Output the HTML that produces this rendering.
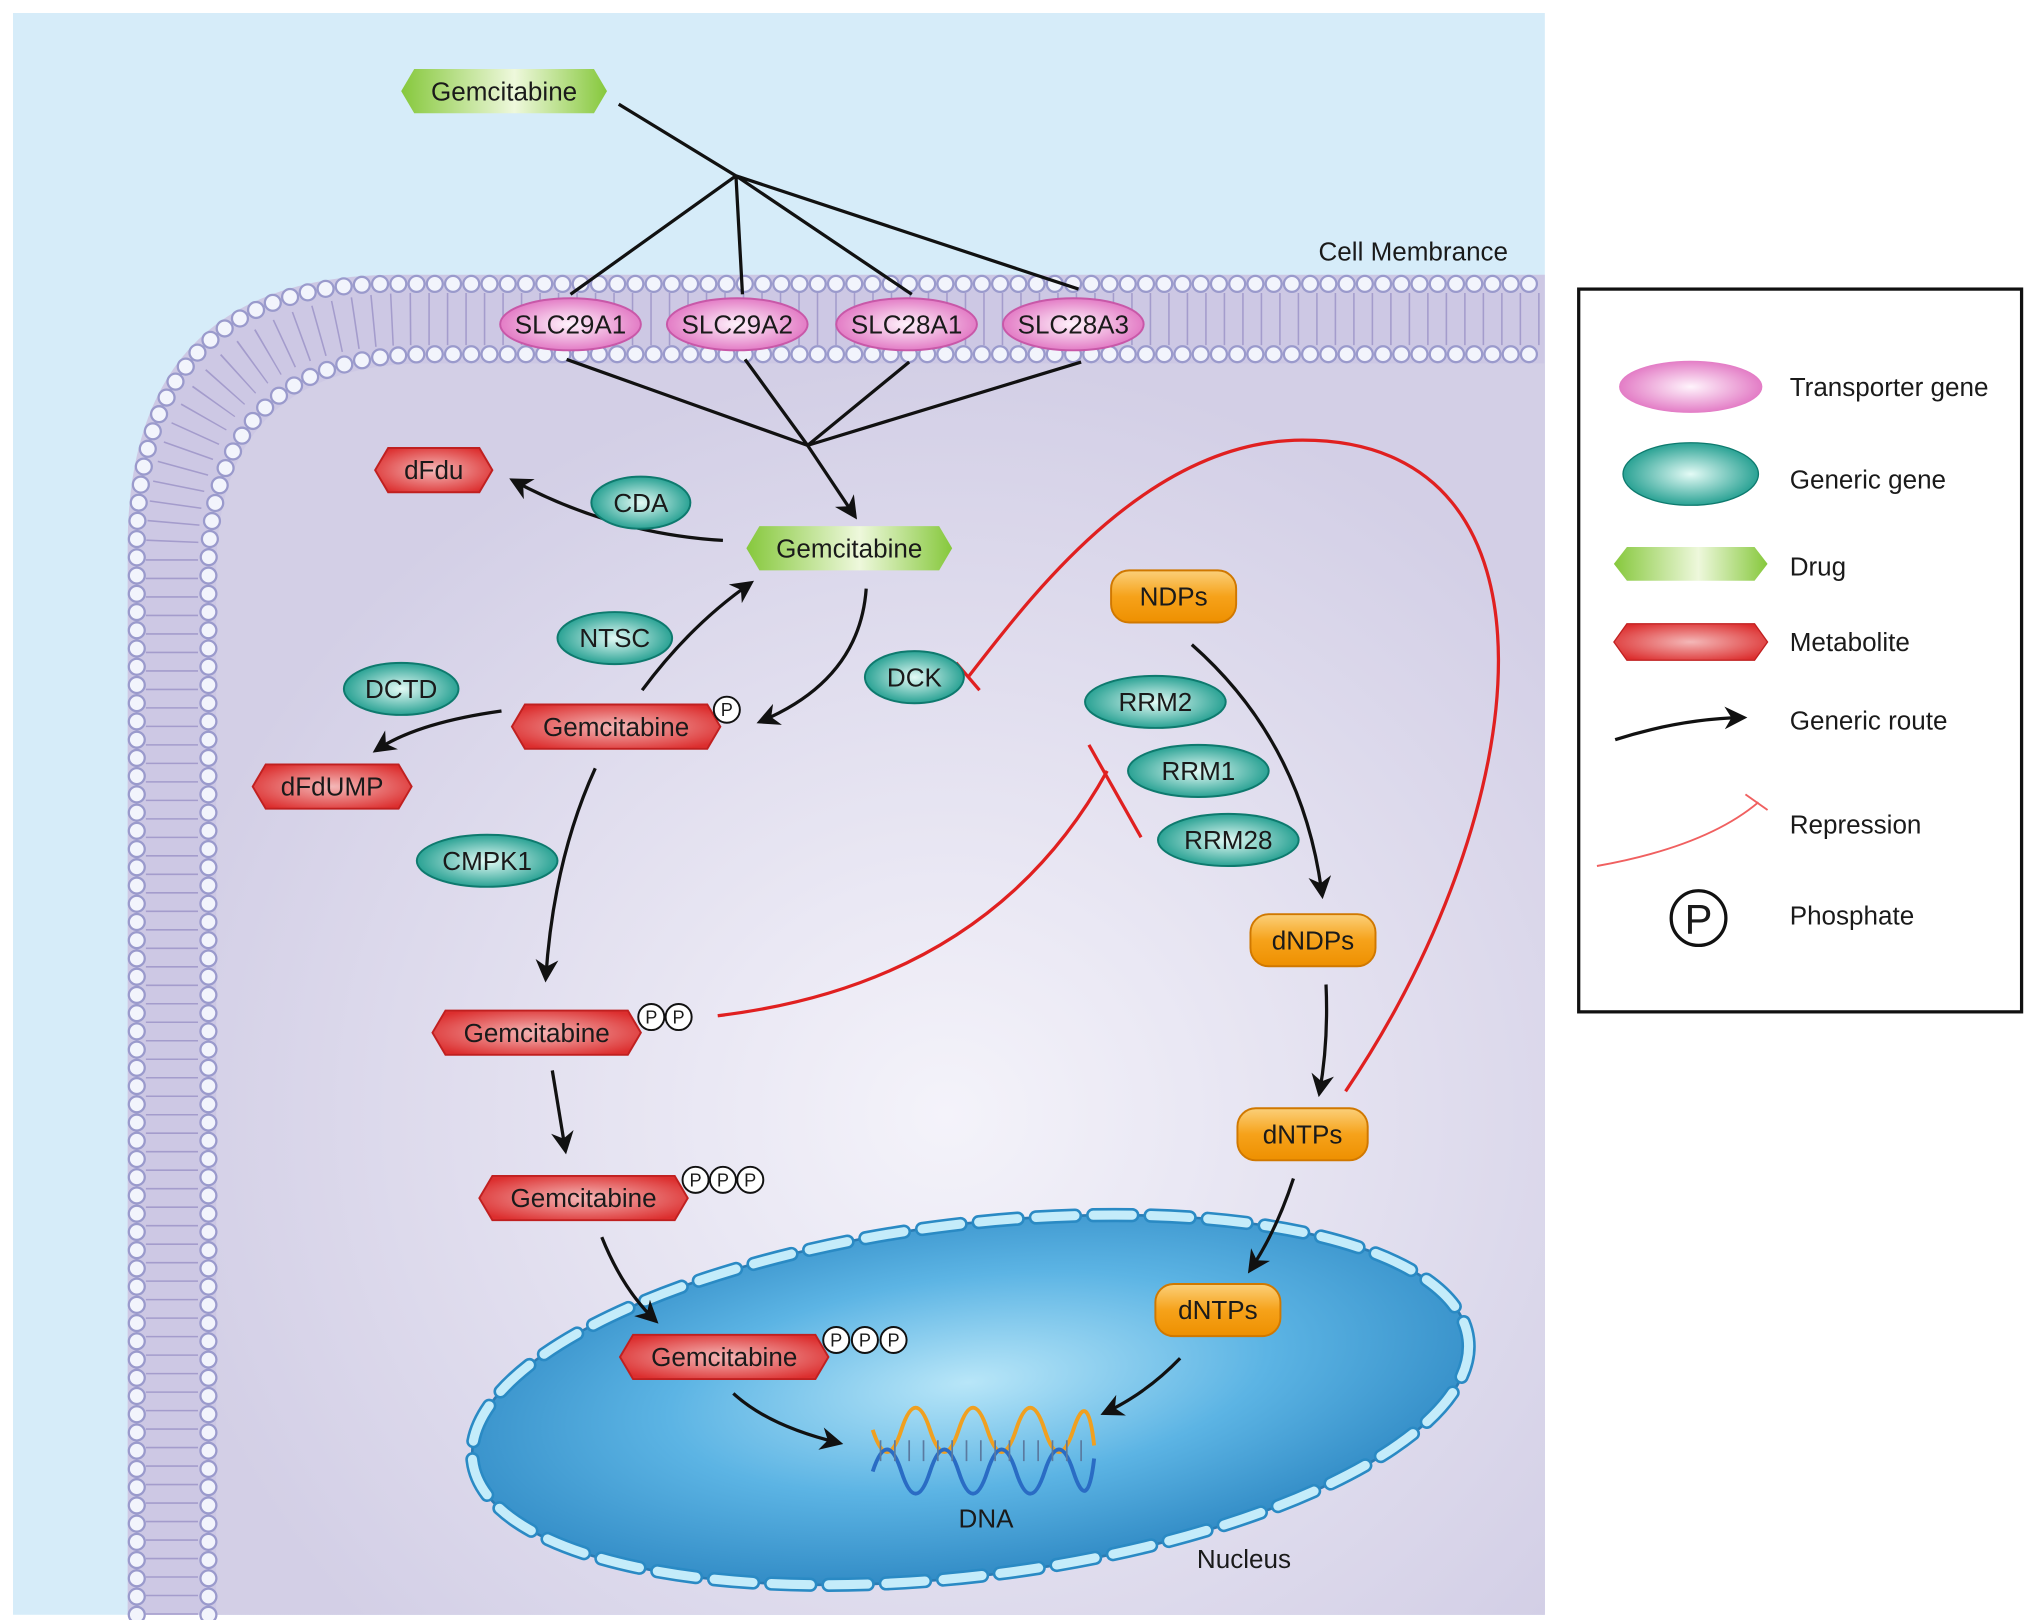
<!DOCTYPE html>
<html><head><meta charset="utf-8"><style>html,body{margin:0;padding:0;background:#fff}svg{display:block}text{font-family:"Liberation Sans",sans-serif;fill:#1a1a1a}</style></head>
<body>
<svg width="2032" height="1620" viewBox="0 0 1560 1244" preserveAspectRatio="none" xmlns="http://www.w3.org/2000/svg">
<defs>
<radialGradient id="cell" cx="0.55" cy="0.6" r="0.6"><stop offset="0" stop-color="#f4f3fa"/><stop offset="1" stop-color="#d3cfe6"/></radialGradient>
<radialGradient id="nuc" cx="0.5" cy="0.45" r="0.6"><stop offset="0" stop-color="#b8e6f8"/><stop offset="0.5" stop-color="#5cb4e4"/><stop offset="1" stop-color="#2a84c0"/></radialGradient>
<linearGradient id="grn" x1="0" x2="1"><stop offset="0" stop-color="#86c83c"/><stop offset="0.55" stop-color="#eef8dc"/><stop offset="1" stop-color="#86c83c"/></linearGradient>
<radialGradient id="red" cx="0.5" cy="0.5" r="0.6"><stop offset="0" stop-color="#f4b8b8"/><stop offset="1" stop-color="#dc2e2e"/></radialGradient>
<radialGradient id="pink" cx="0.5" cy="0.5" r="0.55"><stop offset="0" stop-color="#fff4fc"/><stop offset="1" stop-color="#e070c0"/></radialGradient>
<radialGradient id="teal" cx="0.5" cy="0.5" r="0.55"><stop offset="0" stop-color="#e4fbf6"/><stop offset="1" stop-color="#17998a"/></radialGradient>
<linearGradient id="org" x1="0" y1="0" x2="0" y2="1"><stop offset="0" stop-color="#fbd07a"/><stop offset="0.5" stop-color="#f6a21a"/><stop offset="1" stop-color="#ee9000"/></linearGradient>
<marker id="ah" viewBox="0 0 10 10" refX="8" refY="5" markerWidth="7" markerHeight="7" orient="auto"><path d="M0,0 L10,5 L0,10 L3,5z" fill="#111"/></marker>
</defs>
<rect x="0" y="0" width="1560" height="1244" fill="#fff"/>
<rect x="10" y="10" width="1176" height="1230" fill="#d6ecf9"/>
<path d="M98,1240 V420 Q98,211 305,211 H1186 V1240Z" fill="#cdc8e4"/>
<path d="M132,1240 V430 Q132,245 318,245 H1186" fill="none" stroke="#a49ccc" stroke-width="40" stroke-dasharray="1.2 13"/>
<path d="M166,1240 V440 Q166,279 330,279 H1186 V1240Z" fill="url(#cell)"/>
<path d="M105,1240 V420 Q105,218 300,218 H1186" fill="none" stroke="#9a9acc" stroke-width="14" stroke-linecap="round" stroke-dasharray="0 14"/>
<path d="M105,1240 V420 Q105,218 300,218 H1186" fill="none" stroke="#f2f4fc" stroke-width="10.5" stroke-linecap="round" stroke-dasharray="0 14"/>
<path d="M160,1240 V440 Q160,272 330,272 H1186" fill="none" stroke="#9a9acc" stroke-width="14" stroke-linecap="round" stroke-dasharray="0 14"/>
<path d="M160,1240 V440 Q160,272 330,272 H1186" fill="none" stroke="#f2f4fc" stroke-width="10.5" stroke-linecap="round" stroke-dasharray="0 14"/>
<text x="1085" y="200" font-size="20" text-anchor="middle">Cell Membrance</text>

<!-- nucleus -->
<g transform="rotate(-7 745 1075)">
<ellipse cx="745" cy="1075" rx="385" ry="135" fill="url(#nuc)" stroke="#2a7cb4" stroke-width="2"/>
<ellipse cx="745" cy="1075" rx="385" ry="135" fill="none" stroke="#2a8ac4" stroke-width="11" stroke-dasharray="30 14" stroke-linecap="round"/>
<ellipse cx="745" cy="1075" rx="385" ry="135" fill="none" stroke="#c4ecfa" stroke-width="7" stroke-dasharray="30 14" stroke-linecap="round"/>
</g>
<text x="955" y="1204" font-size="20" text-anchor="middle">Nucleus</text>
<!-- DNA -->
<g fill="none" stroke-width="3">
<path d="M670,1098 Q681,1132 692,1098 T714,1098 T736,1098 T758,1098 T780,1098 T802,1098 T824,1098 T840,1110" stroke="#f0a020"/>
<path d="M670,1130 Q681,1096 692,1130 T714,1130 T736,1130 T758,1130 T780,1130 T802,1130 T824,1130 T840,1120" stroke="#2a6cc4"/>
<path d="M676,1106V1122M687,1106V1122M698,1106V1122M709,1106V1122M720,1106V1122M731,1106V1122M742,1106V1122M753,1106V1122M764,1106V1122M775,1106V1122M786,1106V1122M797,1106V1122M808,1106V1122M819,1106V1122M830,1106V1122" stroke="#5a7aa0" stroke-width="1.3"/>
</g>
<text x="757" y="1173" font-size="20" text-anchor="middle">DNA</text>

<!-- black lines -->
<g stroke="#111" stroke-width="2.5" fill="none">
<path d="M475,80 L565,135 L438,226 M565,135 L570,226 M565,135 L700,226 M565,135 L828,222"/>
<path d="M435,276 L620,342 M572,276 L620,342 M698,278 L620,342 M830,278 L620,342"/>
<path d="M620,342 L656,396" marker-end="url(#ah)"/>
<path d="M555,415 Q470,410 394,369" marker-end="url(#ah)"/>
<path d="M665,452 Q660,522 584,554" marker-end="url(#ah)"/>
<path d="M493,530 Q530,480 576,448" marker-end="url(#ah)"/>
<path d="M385,546 Q320,555 289,576" marker-end="url(#ah)"/>
<path d="M457,590 Q425,660 419,751" marker-end="url(#ah)"/>
<path d="M424,822 L434,883" marker-end="url(#ah)"/>
<path d="M462,950 Q478,990 503,1014" marker-end="url(#ah)"/>
<path d="M563,1070 Q590,1095 644,1108" marker-end="url(#ah)"/>
<path d="M915,495 Q1000,570 1015,687" marker-end="url(#ah)"/>
<path d="M1018,756 Q1020,800 1013,839" marker-end="url(#ah)"/>
<path d="M993,905 Q980,945 960,975" marker-end="url(#ah)"/>
<path d="M906,1043 Q880,1070 848,1085" marker-end="url(#ah)"/>
</g>
<!-- red repression -->
<g stroke="#e02020" stroke-width="2.5" fill="none">
<path d="M551,780 Q760,755 850,592"/>
<path d="M836,572 L876,643"/>
<path d="M1033,838 C1180,620 1210,338 1000,338 C880,338 790,460 744,519"/>
<path d="M734,509 L752,530"/>
</g>

<!-- transporters -->
<g stroke="#c858a8" stroke-width="1.5">
<ellipse cx="438" cy="249" rx="54" ry="20" fill="url(#pink)"/>
<ellipse cx="566" cy="249" rx="54" ry="20" fill="url(#pink)"/>
<ellipse cx="696" cy="249" rx="54" ry="20" fill="url(#pink)"/>
<ellipse cx="824" cy="249" rx="54" ry="20" fill="url(#pink)"/>
</g>
<g font-size="20" text-anchor="middle">
<text x="438" y="256">SLC29A1</text><text x="566" y="256">SLC29A2</text><text x="696" y="256">SLC28A1</text><text x="824" y="256">SLC28A3</text>
</g>
<!-- green drugs -->
<polygon points="308,70 318,53 456,53 466,70 456,87 318,87" fill="url(#grn)"/>
<polygon points="573,421 583,404 721,404 731,421 721,438 583,438" fill="url(#grn)"/>
<text x="387" y="77" font-size="20" text-anchor="middle">Gemcitabine</text>
<text x="652" y="428" font-size="20" text-anchor="middle">Gemcitabine</text>
<!-- red metabolites -->
<g fill="url(#red)" stroke="#c02020" stroke-width="1.5">
<polygon points="288,361 298,344 368,344 378,361 368,378 298,378"/>
<polygon points="393,558 403,541 543,541 553,558 543,575 403,575"/>
<polygon points="194,604 204,587 306,587 316,604 306,621 204,621"/>
<polygon points="332,793 342,776 482,776 492,793 482,810 342,810"/>
<polygon points="368,920 378,903 518,903 528,920 518,937 378,937"/>
<polygon points="476,1042 486,1025 626,1025 636,1042 626,1059 486,1059"/>
</g>
<g font-size="20" text-anchor="middle">
<text x="333" y="368">dFdu</text><text x="473" y="565">Gemcitabine</text><text x="255" y="611">dFdUMP</text>
<text x="412" y="800">Gemcitabine</text><text x="448" y="927">Gemcitabine</text><text x="556" y="1049">Gemcitabine</text>
</g>
<!-- phosphates -->
<g fill="#fff" stroke="#111" stroke-width="1.5">
<circle cx="558" cy="545" r="10"/>
<circle cx="500" cy="781" r="10"/><circle cx="521" cy="781" r="10"/>
<circle cx="534" cy="906" r="10"/><circle cx="555" cy="906" r="10"/><circle cx="576" cy="906" r="10"/>
<circle cx="642" cy="1029" r="10"/><circle cx="664" cy="1029" r="10"/><circle cx="686" cy="1029" r="10"/>
</g>
<g font-size="14" text-anchor="middle">
<text x="558" y="550">P</text><text x="500" y="786">P</text><text x="521" y="786">P</text>
<text x="534" y="911">P</text><text x="555" y="911">P</text><text x="576" y="911">P</text>
<text x="642" y="1034">P</text><text x="664" y="1034">P</text><text x="686" y="1034">P</text>
</g>
<!-- teal genes -->
<g fill="url(#teal)" stroke="#0e7a6e" stroke-width="1.5">
<ellipse cx="492" cy="386" rx="38" ry="20"/>
<ellipse cx="472" cy="490" rx="44" ry="20"/>
<ellipse cx="308" cy="529" rx="44" ry="20"/>
<ellipse cx="702" cy="520" rx="38" ry="20"/>
<ellipse cx="887" cy="539" rx="54" ry="20"/>
<ellipse cx="920" cy="592" rx="54" ry="20"/>
<ellipse cx="943" cy="645" rx="54" ry="20"/>
<ellipse cx="374" cy="661" rx="54" ry="20"/>
</g>
<g font-size="20" text-anchor="middle">
<text x="492" y="393">CDA</text><text x="472" y="497">NTSC</text><text x="308" y="536">DCTD</text><text x="702" y="527">DCK</text>
<text x="887" y="546">RRM2</text><text x="920" y="599">RRM1</text><text x="943" y="652">RRM28</text><text x="374" y="668">CMPK1</text>
</g>
<!-- orange -->
<g fill="url(#org)" stroke="#d07800" stroke-width="1.5">
<rect x="853" y="438" width="96" height="40" rx="14"/>
<rect x="960" y="702" width="96" height="40" rx="14"/>
<rect x="950" y="851" width="100" height="40" rx="14"/>
<rect x="887" y="986" width="96" height="40" rx="14"/>
</g>
<g font-size="20" text-anchor="middle">
<text x="901" y="465">NDPs</text><text x="1008" y="729">dNDPs</text><text x="1000" y="878">dNTPs</text><text x="935" y="1013">dNTPs</text>
</g>

<!-- legend -->
<rect x="1212" y="222" width="340" height="555" fill="#fff" stroke="#111" stroke-width="2.5"/>
<ellipse cx="1298" cy="297" rx="55" ry="20" fill="url(#pink)"/>
<ellipse cx="1298" cy="364" rx="52" ry="24" fill="url(#teal)" stroke="#0e7a6e"/>
<polygon points="1239,433 1249,420 1347,420 1357,433 1347,446 1249,446" fill="url(#grn)"/>
<polygon points="1239,493 1249,479 1347,479 1357,493 1347,507 1249,507" fill="url(#red)" stroke="#c02020"/>
<path d="M1240,568 Q1290,552 1338,551" stroke="#111" stroke-width="2.5" fill="none" marker-end="url(#ah)"/>
<path d="M1226,665 Q1310,650 1350,616" stroke="#f06060" stroke-width="1.5" fill="none"/>
<path d="M1340,610 L1357,622" stroke="#f06060" stroke-width="1.5"/>
<circle cx="1304" cy="705" r="21" fill="#fff" stroke="#111" stroke-width="2.5"/>
<text x="1304" y="717" font-size="32" text-anchor="middle">P</text>
<g font-size="20">
<text x="1374" y="304">Transporter gene</text><text x="1374" y="375">Generic gene</text><text x="1374" y="442">Drug</text>
<text x="1374" y="500">Metabolite</text><text x="1374" y="560">Generic route</text><text x="1374" y="640">Repression</text><text x="1374" y="710">Phosphate</text>
</g>
</svg>
</body></html>
